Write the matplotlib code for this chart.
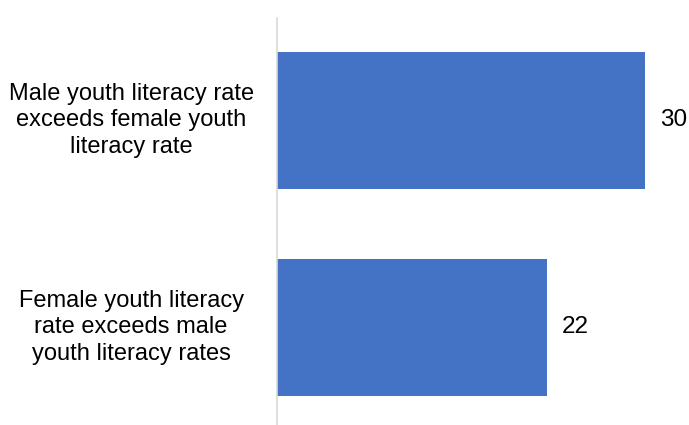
import matplotlib

matplotlib.use("Agg")
import matplotlib.pyplot as plt

plt.rcParams["font.family"] = ["Liberation Sans", "DejaVu Sans"]

categories = [
    "Male youth literacy rate\nexceeds female youth\nliteracy rate",
    "Female youth literacy\nrate exceeds male\nyouth literacy rates",
]
values = [30, 22]

BAR_COLOR = "#4472C4"

fig = plt.figure(figsize=(6.89, 4.25), dpi=100)
ax = fig.add_axes([277 / 689, 0.0, (689 - 277) / 689, (425 - 18) / 425])

pos = list(range(len(values)))
ax.barh(pos, values, height=0.66, color=BAR_COLOR)
ax.set_xlim(0, 33.6)
ax.set_ylim(1.471, -0.495)

ax.set_yticks(pos)
ax.set_yticklabels(categories, fontsize=17, linespacing=1.28, ha="center", va="center")
ax.tick_params(axis="y", length=0, pad=105)
ax.set_xticks([])

for i, v in enumerate(values):
    ax.text(v + 1.2, i, "{:d}".format(v), va="center", ha="left", fontsize=17.5)

for side in ("top", "right", "bottom"):
    ax.spines[side].set_visible(False)
ax.spines["left"].set_color("#D9D9D9")
ax.spines["left"].set_linewidth(1.2)

fig.savefig("out.png", dpi=100)
